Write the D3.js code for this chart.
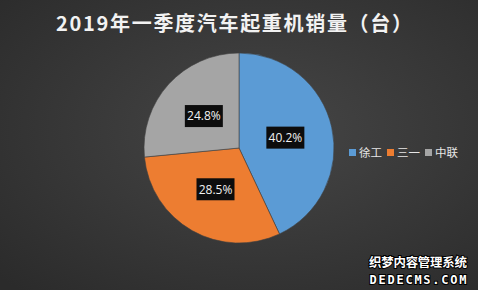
<!DOCTYPE html>
<html>
<head>
<meta charset="utf-8">
<script src="https://cdn.jsdelivr.net/npm/d3@7/dist/d3.min.js"></script>
<style>
  html, body { margin: 0; padding: 0; background: #333; }
  svg { display: block; }
</style>
</head>
<body>
<svg id="chart" width="478" height="290"></svg>
<script>
// 2019 Q1 truck-crane sales share
const title = "2019年一季度汽车起重机销量（台）";
const categories = ["徐工", "三一", "中联"];
const shares = [40.2, 28.5, 24.8];
const colors = ["#5b9bd5", "#ed7d31", "#a5a5a5"];

const W = 478, H = 290;
const cx = 239, cy = 148, radius = 95;

const svg = d3.select("#chart");
const defs = svg.append("defs");

const bg = defs.append("radialGradient")
  .attr("id", "bg").attr("cx", "55%").attr("cy", "45%").attr("r", "75%");
bg.append("stop").attr("offset", "0%").attr("stop-color", "#464646");
bg.append("stop").attr("offset", "100%").attr("stop-color", "#2b2b2b");

svg.append("rect").attr("width", W).attr("height", H).attr("fill", "url(#bg)");

svg.append("text")
  .attr("x", 234).attr("y", 31)
  .attr("text-anchor", "middle")
  .attr("fill", "#f2f2f2")
  .attr("font-family", "'Noto Sans CJK SC', 'Noto Sans', sans-serif")
  .attr("font-weight", "bold")
  .attr("font-size", 20)
  .attr("textLength", 356)
  .attr("lengthAdjust", "spacing")
  .text(title);

const data = categories.map((c, i) => ({ name: c, value: shares[i], color: colors[i] }));

const pie = d3.pie().sort(null).value(d => d.value);
const arc = d3.arc().innerRadius(0).outerRadius(radius);
const labelArc = d3.arc().innerRadius(radius * 0.5).outerRadius(radius * 0.5);

const g = svg.append("g").attr("transform", `translate(${cx},${cy})`);
const arcs = pie(data);

g.selectAll("path.slice")
  .data(arcs)
  .join("path")
  .attr("class", "slice")
  .attr("d", arc)
  .attr("fill", d => d.data.color)
  .attr("stroke", "#404040")
  .attr("stroke-width", 0.6);

const fmt = v => v.toFixed(1) + "%";

const lbl = g.selectAll("g.lbl")
  .data(arcs)
  .join("g")
  .attr("class", "lbl")
  .attr("transform", d => {
    const [x, y] = labelArc.centroid(d);
    return `translate(${x},${y})`;
  });

lbl.append("rect")
  .attr("x", -19).attr("y", -11)
  .attr("width", 38).attr("height", 22)
  .attr("fill", "#0d0d0d");

lbl.append("text")
  .attr("text-anchor", "middle")
  .attr("dy", "0.36em")
  .attr("fill", "#f2f2f2")
  .attr("font-family", "'Open Sans', 'Noto Sans', sans-serif")
  .attr("font-size", 12)
  .text(d => fmt(d.data.value));

// legend
const legend = svg.append("g").attr("transform", "translate(349,153)");
let lx = 0;
data.forEach(d => {
  legend.append("rect")
    .attr("x", lx).attr("y", -4)
    .attr("width", 7).attr("height", 7)
    .attr("fill", d.color);
  const t = legend.append("text")
    .attr("x", lx + 10).attr("y", 0)
    .attr("dy", "0.36em")
    .attr("fill", "#e6e6e6")
    .attr("font-family", "'Noto Sans CJK SC', sans-serif")
    .attr("font-size", 11.5)
    .text(d.name);
  lx += 10 + t.node().getComputedTextLength() + 5;
});

// site mark, bottom right
const mark = svg.append("g")
  .attr("font-family", "'Noto Sans CJK SC', sans-serif")
  .attr("font-weight", "bold")
  .attr("fill", "#ffffff")
  .attr("stroke", "#000000")
  .attr("stroke-width", 2)
  .attr("paint-order", "stroke")
  .attr("text-anchor", "middle");
mark.append("text")
  .attr("x", 418).attr("y", 267)
  .attr("font-size", 12.5)
  .attr("textLength", 98)
  .text("织梦内容管理系统");
mark.append("text")
  .attr("x", 418).attr("y", 284)
  .attr("font-size", 12)
  .attr("font-family", "'DejaVu Sans Mono', monospace")
  .attr("textLength", 97)
  .text("DEDECMS.COM");
</script>
</body>
</html>
